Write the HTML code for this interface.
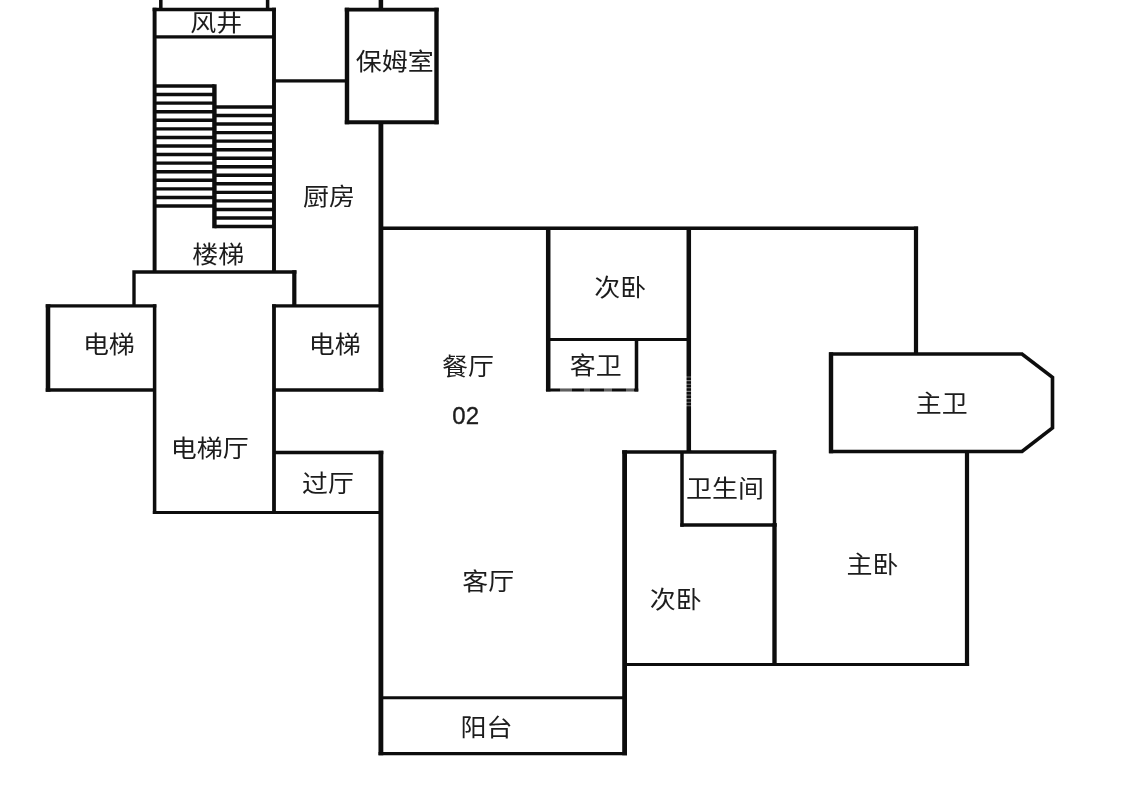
<!DOCTYPE html>
<html lang="zh"><head><meta charset="utf-8"><title>户型图 02</title>
<style>
html,body{margin:0;padding:0;background:#fff}
body{width:1125px;height:800px;overflow:hidden;font-family:"Liberation Sans",sans-serif}
svg{display:block}
.w{stroke:#0a0a0a;fill:none;stroke-linecap:butt;stroke-linejoin:miter}
.s{stroke:#0a0a0a;fill:none;stroke-linecap:butt}
.t{fill:#1c1c1c}
.lbl{font-family:"Liberation Sans","Noto Sans CJK SC",sans-serif;font-size:26px;fill:#1c1c1c}
</style></head><body>
<svg width="1125" height="800" viewBox="0 0 1125 800">
<rect width="1125" height="800" fill="#fff"/>
<defs>
<filter id="soft" x="0" y="0" width="1125" height="800" filterUnits="userSpaceOnUse"><feGaussianBlur stdDeviation="0.55"/></filter>
</defs>
<g filter="url(#soft)">
<path class="s" stroke-width="3.4" d="M154.6 86H214.5M154.6 94.57H214.5M154.6 103.14H214.5M154.6 111.71H214.5M154.6 120.29H214.5M154.6 128.86H214.5M154.6 137.43H214.5M154.6 146H214.5M154.6 154.57H214.5M154.6 163.14H214.5M154.6 171.71H214.5M154.6 180.29H214.5M154.6 188.86H214.5M154.6 197.43H214.5M154.6 206H214.5M214.5 107H274M214.5 115.54H274M214.5 124.07H274M214.5 132.61H274M214.5 141.14H274M214.5 149.68H274M214.5 158.21H274M214.5 166.75H274M214.5 175.29H274M214.5 183.82H274M214.5 192.36H274M214.5 200.89H274M214.5 209.43H274M214.5 217.96H274M214.5 226.5H274"/>
<path class="w" stroke-width="4.4" d="M214.4 84.3V228.2"/>
<path class="w" stroke-width="3.5" d="M160.8 0V9.5M267.6 0V9.5M154.6 304.15V514.05M380.9 228.3H918.1M636.5 339.5V391.4M774.5 450.35V526.65M682 452V526.65"/>
<path class="w" stroke-width="3.3" d="M152.65 9.5H275.95M154.6 36.8H274M274 80.8H347M132.35 272H296.4M134 270.35V305.8M45.75 305.8H156.35M45.75 390H154.6M272.1 305.8H380.9M274 390H383.3M274 452.5H383.3M622.2 452H776.25M680.25 525H776.65M378.5 753.6H627"/>
<path class="w" stroke-width="3.9" d="M154.6 7.85V272M274 7.85V272M344.8 122.2H438.7"/>
<path class="w" stroke-width="3.8" d="M344.8 9.6H438.7M274 304.15V512.5"/>
<path class="w" stroke-width="4.4" d="M347 7.7V124.15M436.5 7.7V124.15M831 352.2V453.3"/>
<path class="w" stroke-width="4.5" d="M380.9 0V9.6M48 304.15V391.65M548.2 228.3V391.4M688.8 228.3V452"/>
<path class="w" stroke-width="4.8" d="M380.9 122.2V391.65M380.9 450.85V755.25M624.6 450.35V755.25"/>
<path class="w" stroke-width="4.2" d="M294.3 270.35V305.8M916 226.55V354M967 451.5V666.1"/>
<path class="w" stroke-width="3.1" d="M152.85 512.5H380.9"/>
<path class="w" stroke-width="3" d="M548.2 339.5H688.8M380.9 697.8H624.6"/>
<path class="w" stroke-width="2.8" d="M545.95 390H638.25"/>
<path class="w" stroke-width="4.3" d="M774.5 523.35V664.5"/>
<path class="w" stroke-width="3.2" d="M624.6 664.5H969.1"/>
<path class="w" stroke-width="3.6" d="M831 354L1022 354L1052.5 377.3L1052.5 427.8L1022 451.5L831 451.5Z"/>
<text class="lbl" transform="translate(190.15 30.59) scale(1 0.877)">风井</text>
<text class="lbl" transform="translate(355.83 69.74) scale(1 0.931)">保姆室</text>
<text class="lbl" transform="translate(302.96 205.13) scale(1 0.931)">厨房</text>
<text class="lbl" transform="translate(192.32 263.41) scale(1 0.931)">楼梯</text>
<text class="lbl" transform="translate(82.88 353.46) scale(1 0.931)">电梯</text>
<text class="lbl" transform="translate(308.68 353.46) scale(1 0.931)">电梯</text>
<text class="lbl" transform="translate(170.65 456.76) scale(1 0.931)">电梯厅</text>
<text class="lbl" transform="translate(301.92 492.46) scale(1 0.931)">过厅</text>
<text class="lbl" transform="translate(441.98 374.51) scale(1 0.931)">餐厅</text>
<text class="lbl" transform="translate(594.21 296.22) scale(1 0.931)">次卧</text>
<text class="lbl" transform="translate(569.78 373.82) scale(1 0.931)">客卫</text>
<text class="lbl" transform="translate(915.7 412.08) scale(1 0.931)">主卫</text>
<text class="lbl" transform="translate(686.05 497.3) scale(1 0.931)">卫生间</text>
<text class="lbl" transform="translate(846.48 572.58) scale(1 0.931)">主卧</text>
<text class="lbl" transform="translate(649.76 607.77) scale(1 0.931)">次卧</text>
<text class="lbl" transform="translate(462.28 590.22) scale(1 0.931)">客厅</text>
<text class="lbl" transform="translate(460.43 735.82) scale(1 0.931)">阳台</text>
<text class="t" x="465.7" y="424" font-size="24" text-anchor="middle" stroke="#1c1c1c" stroke-width="0.35" font-family="Liberation Sans, sans-serif">02</text>
<path d="M683 377H695M683 380.6H695M683 384.2H695M683 387.8H695M683 391.4H695M683 395H695M683 398.6H695M683 402.2H695M683 405.8H695" stroke="#fff" stroke-opacity="0.45" stroke-width="1.1" fill="none"/>
<path d="M560 390H572M584 390H590M604 390H612M626 390H634" stroke="#fff" stroke-opacity="0.35" stroke-width="3.4" fill="none"/>
</g>
</svg>
</body></html>
